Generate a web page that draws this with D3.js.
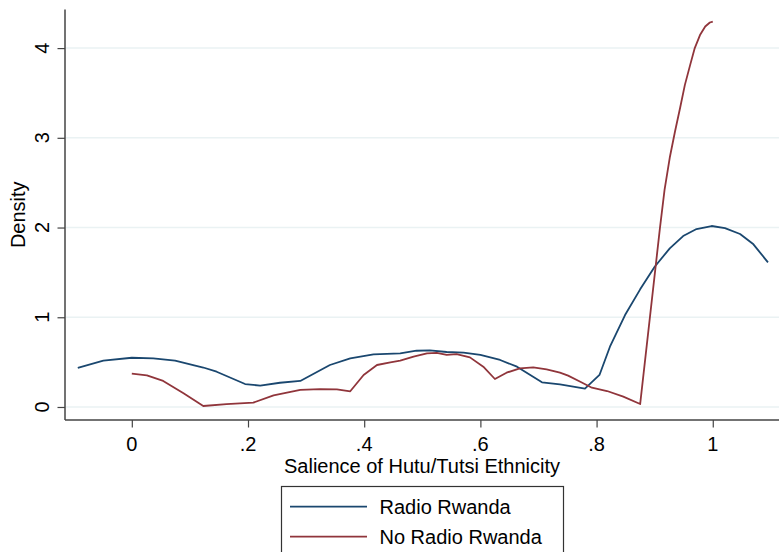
<!DOCTYPE html>
<html>
<head>
<meta charset="utf-8">
<script src="https://cdn.jsdelivr.net/npm/d3@7"></script>
<style>
  body { margin: 0; background: #fff; }
  svg { display: block; font-family: "Liberation Sans", Arial, Helvetica, sans-serif; }
</style>
</head>
<body>
<svg id="chart" width="779" height="552"></svg>
<script>
// Radio Rwanda density
const radioX = [-0.093, -0.049, 0, 0.037, 0.0745, 0.123, 0.146, 0.195, 0.221, 0.255, 0.29, 0.341, 0.376, 0.416, 0.462, 0.49, 0.513, 0.542, 0.571, 0.6, 0.634, 0.663, 0.706, 0.737, 0.78, 0.805, 0.823, 0.849, 0.875, 0.9, 0.926, 0.949, 0.972, 0.998, 1.021, 1.047, 1.07, 1.095];
const radioY = [0.437, 0.516, 0.549, 0.542, 0.516, 0.44, 0.393, 0.256, 0.238, 0.27, 0.29, 0.468, 0.542, 0.587, 0.598, 0.627, 0.631, 0.613, 0.605, 0.58, 0.524, 0.449, 0.275, 0.253, 0.204, 0.357, 0.672, 1.025, 1.311, 1.563, 1.768, 1.905, 1.983, 2.017, 1.994, 1.928, 1.813, 1.612];

// No Radio Rwanda density
const noRadioX = [0, 0.026, 0.054, 0.089, 0.123, 0.163, 0.209, 0.244, 0.29, 0.324, 0.353, 0.376, 0.399, 0.422, 0.445, 0.462, 0.485, 0.508, 0.525, 0.542, 0.559, 0.582, 0.605, 0.625, 0.645, 0.668, 0.691, 0.714, 0.737, 0.751, 0.772, 0.792, 0.818, 0.846, 0.875, 0.909, 0.917, 0.926, 0.935, 0.944, 0.952, 0.961, 0.969, 0.978, 0.987, 0.995, 1.0];
const noRadioY = [0.371, 0.353, 0.29, 0.152, 0.011, 0.033, 0.048, 0.13, 0.19, 0.2, 0.197, 0.175, 0.357, 0.468, 0.498, 0.516, 0.561, 0.598, 0.602, 0.58, 0.59, 0.553, 0.449, 0.312, 0.382, 0.431, 0.442, 0.42, 0.382, 0.349, 0.282, 0.215, 0.178, 0.115, 0.033, 1.99, 2.42, 2.78, 3.07, 3.34, 3.59, 3.81, 4.0, 4.145, 4.24, 4.285, 4.295];

const xTicks = [0, 0.2, 0.4, 0.6, 0.8, 1];
const xTickLabels = ["0", ".2", ".4", ".6", ".8", "1"];
const yTicks = [0, 1, 2, 3, 4];
const seriesNames = ["Radio Rwanda", "No Radio Rwanda"];
const seriesColors = ["#1a476f", "#90353b"];

const svg = d3.select("#chart");
const axisColor = "#444";

const x = d3.scaleLinear().domain([-0.115, 1.114]).range([65, 779]);
const y = d3.scaleLinear().domain([-0.145, 4.43]).range([420, 9.5]);

// gridlines
svg.append("g")
  .selectAll("line")
  .data(yTicks)
  .join("line")
  .attr("x1", 66)
  .attr("x2", 779)
  .attr("y1", d => y(d))
  .attr("y2", d => y(d))
  .attr("stroke", "#eaf2f3")
  .attr("stroke-width", 1.5);

// y axis
const yAxis = svg.append("g")
  .attr("transform", `translate(${x.range()[0]},0)`)
  .call(d3.axisLeft(y).tickValues(yTicks).tickSize(7.5).tickFormat(""));
yAxis.select(".domain").attr("stroke", axisColor).attr("stroke-width", 1.5).attr("d", `M0,${y.range()[0]}V${y.range()[1]}`);
yAxis.selectAll(".tick line").attr("stroke", axisColor).attr("stroke-width", 1.2);

svg.append("g")
  .selectAll("text")
  .data(yTicks)
  .join("text")
  .attr("transform", d => `translate(48.5,${y(d)}) rotate(-90)`)
  .attr("text-anchor", "middle")
  .attr("font-size", 20)
  .attr("fill", "#000")
  .text(d => d);

// x axis
const xAxis = svg.append("g")
  .attr("transform", `translate(0,${y.range()[0]})`)
  .call(d3.axisBottom(x).tickValues(xTicks).tickSize(7.5).tickFormat(""));
xAxis.select(".domain").attr("stroke", axisColor).attr("stroke-width", 1.5).attr("d", `M${x.range()[0]},0H${x.range()[1]}`);
xAxis.selectAll(".tick line").attr("stroke", axisColor).attr("stroke-width", 1.2);

svg.append("g")
  .selectAll("text")
  .data(xTicks)
  .join("text")
  .attr("x", d => x(d))
  .attr("y", 451)
  .attr("text-anchor", "middle")
  .attr("font-size", 20)
  .attr("fill", "#000")
  .text((d, i) => xTickLabels[i]);

// axis titles
svg.append("text")
  .attr("x", (x.range()[0] + x.range()[1]) / 2)
  .attr("y", 473)
  .attr("text-anchor", "middle")
  .attr("font-size", 20)
  .text("Salience of Hutu/Tutsi Ethnicity");

svg.append("text")
  .attr("transform", `translate(25,${(y.range()[0] + y.range()[1]) / 2}) rotate(-90)`)
  .attr("text-anchor", "middle")
  .attr("font-size", 20)
  .text("Density");

// density lines
const line = d3.line()
  .x(d => x(d[0]))
  .y(d => y(d[1]));

const series = [
  d3.zip(radioX, radioY),
  d3.zip(noRadioX, noRadioY)
];

svg.append("g")
  .selectAll("path")
  .data(series)
  .join("path")
  .attr("fill", "none")
  .attr("stroke", (d, i) => seriesColors[i])
  .attr("stroke-width", 1.8)
  .attr("stroke-linejoin", "round")
  .attr("d", line);

// legend
const legend = svg.append("g");
legend.append("rect")
  .attr("x", 281.5)
  .attr("y", 486.5)
  .attr("width", 282)
  .attr("height", 80)
  .attr("fill", "#fff")
  .attr("stroke", "#333")
  .attr("stroke-width", 1.2);

const item = legend.selectAll(".item")
  .data(seriesNames)
  .join("g")
  .attr("class", "item")
  .attr("transform", (d, i) => `translate(0,${506.7 + i * 30})`);

item.append("line")
  .attr("x1", 290)
  .attr("x2", 367)
  .attr("stroke", (d, i) => seriesColors[i])
  .attr("stroke-width", 1.8);

item.append("text")
  .attr("x", 379.5)
  .attr("y", 7)
  .attr("font-size", 20)
  .text(d => d);
</script>
</body>
</html>
